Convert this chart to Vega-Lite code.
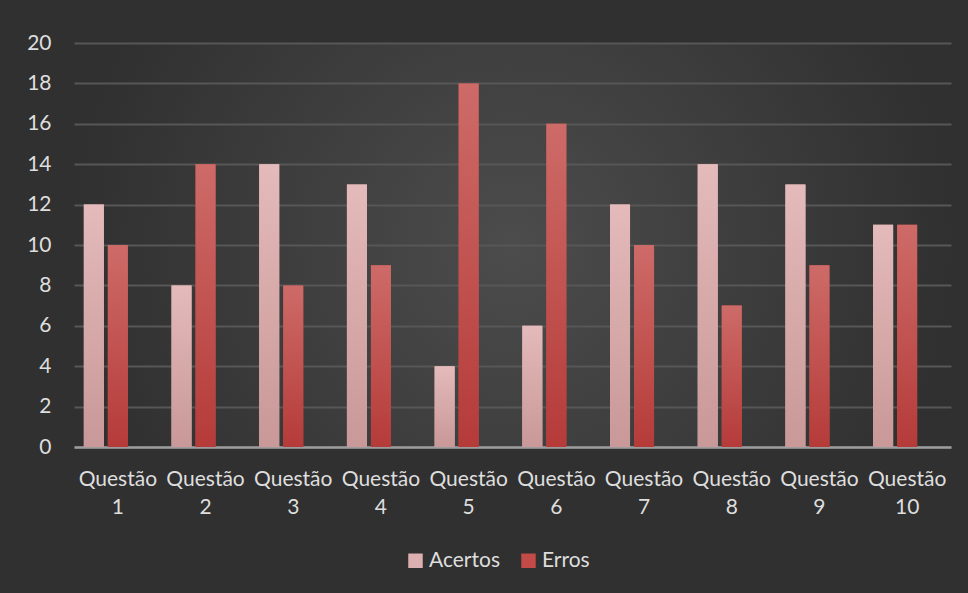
{
  "$schema": "https://vega.github.io/schema/vega-lite/v6.json",
  "width": 877,
  "height": 404,
  "autosize": {"type": "none"},
  "padding": {"left": 74, "top": 43, "right": 17, "bottom": 146},
  "background": "#303030",
  "config": {
    "font": "Lato",
    "view": {
      "stroke": null,
      "fill": {
        "gradient": "radial",
        "x1": 0.5, "y1": 0.5, "r1": 0,
        "x2": 0.5, "y2": 0.5, "r2": 0.5,
        "stops": [
          {"offset": 0, "color": "#4c4c4c"},
          {"offset": 1, "color": "#303030"}
        ]
      }
    }
  },
  "data": {
    "values": [
      {"questao": "Questão 1", "serie": "Acertos", "valor": 12},
      {"questao": "Questão 1", "serie": "Erros", "valor": 10},
      {"questao": "Questão 2", "serie": "Acertos", "valor": 8},
      {"questao": "Questão 2", "serie": "Erros", "valor": 14},
      {"questao": "Questão 3", "serie": "Acertos", "valor": 14},
      {"questao": "Questão 3", "serie": "Erros", "valor": 8},
      {"questao": "Questão 4", "serie": "Acertos", "valor": 13},
      {"questao": "Questão 4", "serie": "Erros", "valor": 9},
      {"questao": "Questão 5", "serie": "Acertos", "valor": 4},
      {"questao": "Questão 5", "serie": "Erros", "valor": 18},
      {"questao": "Questão 6", "serie": "Acertos", "valor": 6},
      {"questao": "Questão 6", "serie": "Erros", "valor": 16},
      {"questao": "Questão 7", "serie": "Acertos", "valor": 12},
      {"questao": "Questão 7", "serie": "Erros", "valor": 10},
      {"questao": "Questão 8", "serie": "Acertos", "valor": 14},
      {"questao": "Questão 8", "serie": "Erros", "valor": 7},
      {"questao": "Questão 9", "serie": "Acertos", "valor": 13},
      {"questao": "Questão 9", "serie": "Erros", "valor": 9},
      {"questao": "Questão 10", "serie": "Acertos", "valor": 11},
      {"questao": "Questão 10", "serie": "Erros", "valor": 11}
    ]
  },
  "encoding": {
    "x": {
      "field": "questao",
      "type": "nominal",
      "sort": null,
      "scale": {"paddingInner": 0.224, "paddingOuter": 0.112},
      "axis": {
        "title": null,
        "labelAngle": 0,
        "labelExpr": "split(datum.label, ' ')",
        "labelLineHeight": 28,
        "labelPadding": 21,
        "labelFontSize": 21,
        "labelColor": "#dedede",
        "ticks": false,
        "domainColor": "#9c9c9c",
        "domainWidth": 2.5
      }
    },
    "xOffset": {
      "field": "serie",
      "type": "nominal",
      "scale": {"domain": ["Acertos", "Erros", "Outro"], "paddingInner": 0.1667, "paddingOuter": 0}
    },
    "y": {
      "field": "valor",
      "type": "quantitative",
      "scale": {"domain": [0, 20]},
      "axis": {
        "title": null,
        "tickCount": 10,
        "domain": false,
        "ticks": false,
        "grid": true,
        "gridColor": "#575757",
        "gridWidth": 2,
        "labelPadding": 23,
        "labelFontSize": 21,
        "labelColor": "#dedede"
      }
    }
  },
  "layer": [
    {
      "mark": {"type": "bar"},
      "encoding": {
        "color": {
          "field": "serie",
          "type": "nominal",
          "scale": {"domain": ["Acertos", "Erros"], "range": ["#dcb0b0", "#c24a47"]},
          "legend": {
            "title": null,
            "orient": "none",
            "legendX": 331,
            "legendY": 507,
            "direction": "horizontal",
            "symbolType": "square",
            "symbolSize": 210,
            "symbolStrokeWidth": 0,
            "labelFontSize": 21,
            "labelColor": "#dedede",
            "labelOffset": 3,
            "columnPadding": 18
          }
        }
      }
    },
    {
      "mark": {"type": "bar"},
      "encoding": {
        "fill": {
          "condition": {
            "test": "datum.serie === 'Acertos'",
            "value": {
              "gradient": "linear", "x1": 0, "y1": 0, "x2": 0, "y2": 1,
              "stops": [
                {"offset": 0, "color": "#e4baba"},
                {"offset": 1, "color": "#c99898"}
              ]
            }
          },
          "value": {
            "gradient": "linear", "x1": 0, "y1": 0, "x2": 0, "y2": 1,
            "stops": [
              {"offset": 0, "color": "#cd6b68"},
              {"offset": 1, "color": "#b53b39"}
            ]
          }
        }
      }
    }
  ]
}
